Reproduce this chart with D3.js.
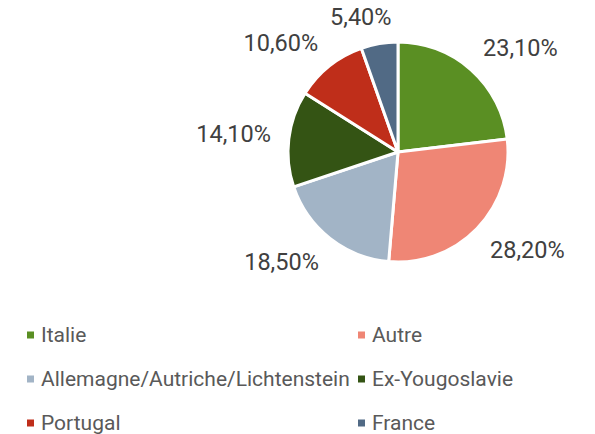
<!DOCTYPE html>
<html>
<head>
<meta charset="utf-8">
<script src="https://cdn.jsdelivr.net/npm/d3@7"></script>
<style>
  body { margin: 0; background: #fff; }
  text { font-family: Roboto, "Noto Sans", sans-serif; }
</style>
</head>
<body>
<div id="chart"></div>
<script>
var categories = ["Italie", "Autre", "Allemagne/Autriche/Lichtenstein", "Ex-Yougoslavie", "Portugal", "France"];
var values = [23.1, 28.2, 18.5, 14.1, 10.6, 5.4];
var labels = ["23,10%", "28,20%", "18,50%", "14,10%", "10,60%", "5,40%"];
var colors = ["#5a8f23", "#ef8675", "#a2b4c6", "#345414", "#bf2e1a", "#516a85"];

var width = 595, height = 434;
var cx = 398, cy = 152, radius = 110;

var svg = d3.select("#chart").append("svg")
    .attr("width", width)
    .attr("height", height);

var data = categories.map((c, i) => ({name: c, value: values[i], label: labels[i], color: colors[i]}));

var pie = d3.pie().sort(null).value(d => d.value);
var arc = d3.arc().innerRadius(0).outerRadius(radius);

var g = svg.append("g").attr("transform", "translate(" + cx + "," + cy + ")");

g.selectAll("path")
    .data(pie(data))
    .enter()
    .append("path")
    .attr("d", arc)
    .attr("fill", d => d.data.color)
    .attr("stroke", "#fff")
    .attr("stroke-width", 3)
    .attr("stroke-linejoin", "round");

// labels sit just outside the slice, pushed out by half their box
var labelR = 128;
var clamp = v => Math.max(-1, Math.min(1, v));
g.selectAll("text.lbl")
    .data(pie(data))
    .enter()
    .append("text")
    .attr("class", "lbl")
    .attr("text-anchor", "middle")
    .attr("dy", "0.35em")
    .style("font-size", "23.5px")
    .style("fill", "#404040")
    .text(d => d.data.label)
    .attr("transform", function(d) {
        var a = (d.startAngle + d.endAngle) / 2;
        var s = Math.sin(a), c = Math.cos(a);
        var bb = this.getBBox();
        var x = labelR * s + bb.width / 2 * clamp(s * 3);
        var y = -labelR * c - 9 * clamp(c * 3);
        return "translate(" + x + "," + y + ")";
    });

// legend, two columns
var legend = svg.append("g");
var item = legend.selectAll("g")
    .data(data)
    .enter()
    .append("g")
    .attr("transform", (d, i) => "translate(" + (i % 2 === 0 ? 27 : 358) + "," + (335 + Math.floor(i / 2) * 44) + ")");

item.append("rect")
    .attr("x", 0)
    .attr("y", -3.5)
    .attr("width", 7)
    .attr("height", 7)
    .attr("fill", d => d.color);

item.append("text")
    .attr("x", 14)
    .attr("dy", "0.35em")
    .style("font-size", "21px")
    .style("fill", "#595959")
    .text(d => d.name);
</script>
</body>
</html>
